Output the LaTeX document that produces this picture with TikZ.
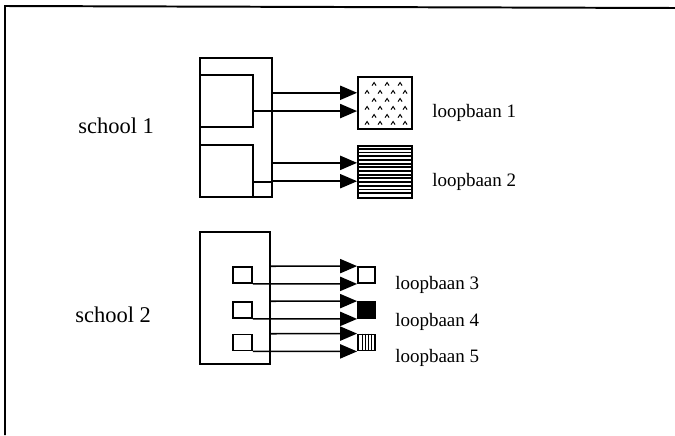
\documentclass[tikz,border=0pt]{standalone}
\usepackage{fontspec}
\setmainfont{Liberation Serif}
\usetikzlibrary{arrows.meta,calc,positioning}

\begin{document}
\begin{tikzpicture}[x=0.025cm, y=-0.025cm,
    frameline/.style={line width=1.4pt},
    schoolbox/.style={draw, line width=1.1pt, inner sep=0pt},
    pathbox/.style={draw, line width=1.3pt, inner sep=0pt},
    flow/.style={line width=1.1pt, -{Triangle[length=12pt,width=10pt]}},
    caret/.style={line width=0.7pt},
    stripe/.style={line width=1.3pt},
    schoollabel/.style={anchor=base west, inner sep=0pt,
                        font=\fontsize{16}{19}\selectfont},
    pathlabel/.style={anchor=base west, inner sep=0pt,
                      font=\fontsize{13.5}{16}\selectfont}
  ]
    \def\px{0.025cm}
    \useasboundingbox (0,0) rectangle (675,435);

    % frame (only top and left edge are visible)
    \draw[frameline] (675,8) -- (5,6) -- (5,435);

    % school 1
    \node[schoolbox, minimum width=72*\px, minimum height=139*\px] (s1)  at (236,127.5) {};
    \node[schoolbox, minimum width=53*\px, minimum height=52*\px]  (s1a) at (226.5,101) {};
    \node[schoolbox, minimum width=53*\px, minimum height=52*\px]  (s1b) at (226.5,171) {};
    \node[schoolbox, minimum width=19*\px, minimum height=15*\px]  (s1c) at (262.5,189.5) {};

    \node[pathbox, minimum width=54*\px, minimum height=52*\px] (l1) at (385,103) {};
    \node[pathbox, minimum width=54*\px, minimum height=52*\px] (l2) at (385,172) {};

    % dotted career
    \foreach \dy in {8,24,40}
      \foreach \dx in {17,30,43}
        \draw[caret] ([shift={(\dx,\dy)}]l1.north west) +(-2,1.5) -- +(0,-1.5) -- +(2,1.5);
    \foreach \dy in {16,32,47}
      \foreach \dx in {10,23,36,48}
        \draw[caret] ([shift={(\dx,\dy)}]l1.north west) +(-2,1.5) -- +(0,-1.5) -- +(2,1.5);

    % striped career
    \foreach \dy in {3.7,7.4,...,49}
      \draw[stripe] ([shift={(0,\dy)}]l2.north west) -- ([shift={(0,\dy)}]l2.north east);

    \coordinate (t1) at ($(l1.north west)!.31!(l1.south west)$);
    \coordinate (b1) at ($(l1.north west)!.65!(l1.south west)$);
    \coordinate (t2) at ($(l2.north west)!.33!(l2.south west)$);
    \draw[flow] (s1.east |- t1) -- (t1);
    \draw[flow] (s1a.east |- b1) -- (b1);
    \draw[flow] (s1.east |- t2) -- (t2);
    \draw[flow] (s1c.north east) -- (s1c.north east -| l2.west);

    % school 2
    \node[schoolbox, minimum width=70*\px, minimum height=132*\px] (s2) at (235,298) {};
    \foreach \n/\y in {3/275,4/310,5/342.5} {
      \node[schoolbox, minimum width=19*\px, minimum height=16*\px] (q\n) at (242.5,\y) {};
      \node[pathbox, minimum width=17*\px, minimum height=16*\px] (l\n) at (366.5,\y) {};
    }
    \fill (l4.north west) rectangle (l4.south east);
    \foreach \dx in {5,8,11,14}
      \draw[line width=0.8pt] ([shift={(\dx,0)}]l5.north west) -- ([shift={(\dx,0)}]l5.south west);

    \foreach \n in {3,4,5} {
      \draw[flow] (s2.east |- q\n.north) -- (l\n.north west);
      \draw[flow] (q\n.south east) -- (l\n.south west);
    }

    % labels
    \node[schoollabel] (n1) at (78,133)   {school 1};
    \node[schoollabel] (n2) at (75,322)   {school 2};
    \node[pathlabel]   (m1) at (432,117)  {loopbaan 1};
    \node[pathlabel]   (m2) at (432,186)  {loopbaan 2};
    \node[pathlabel]   (m3) at (395,289)  {loopbaan 3};
    \node[pathlabel]   (m4) at (395,326)  {loopbaan 4};
    \node[pathlabel]   (m5) at (395,362)  {loopbaan 5};
  \end{tikzpicture}
\end{document}
